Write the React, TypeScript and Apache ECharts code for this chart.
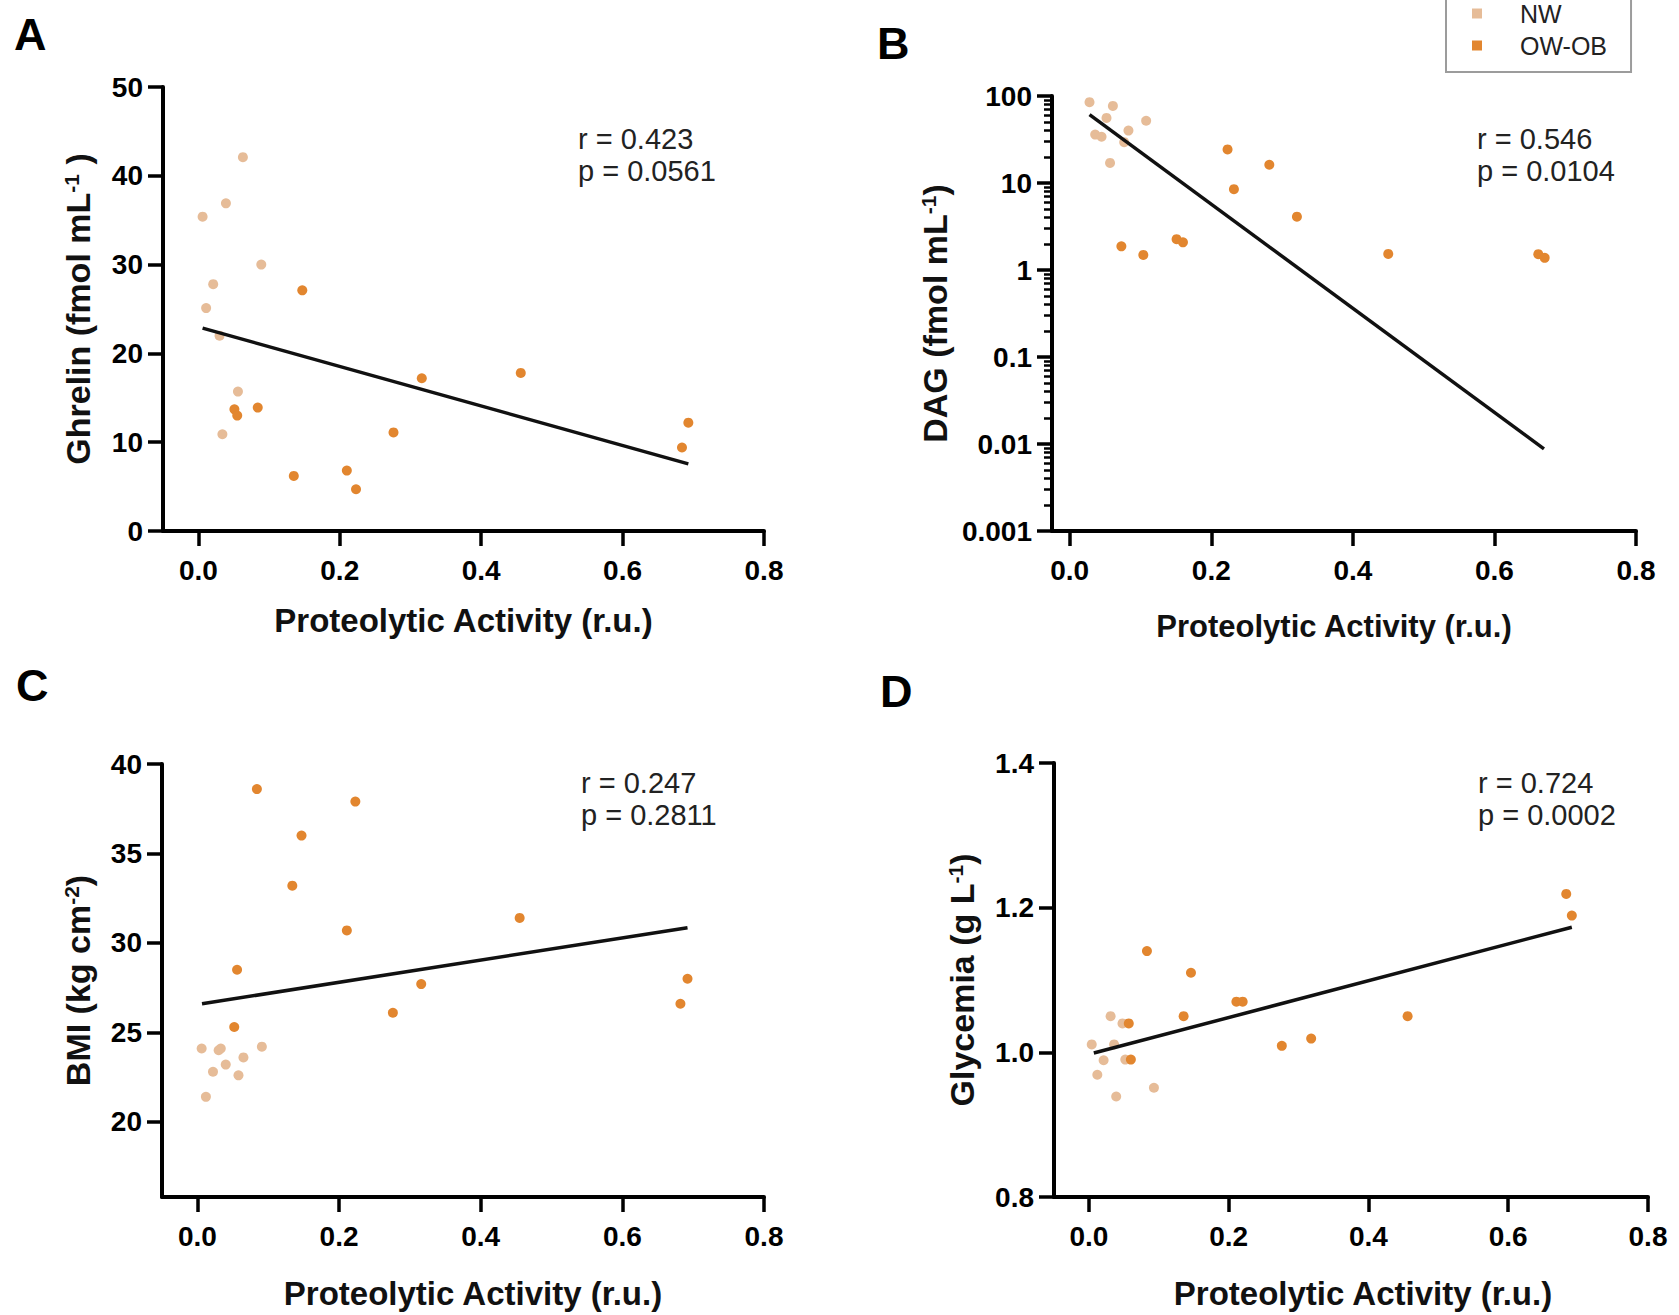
import React, { useEffect, useRef } from "react";
import * as echarts from "echarts";

const FONT = "'Liberation Sans', Arial, Helvetica, sans-serif";
const NW_COLOR = "#E6BC98";
const OB_COLOR = "#E2862F";

// tick values
const xTicks = [0, 0.2, 0.4, 0.6, 0.8];
const yTicksA = [0, 10, 20, 30, 40, 50];
const yTicksC = [20, 25, 30, 35, 40];
const yTicksD = [0.8, 1.0, 1.2, 1.4];

// Panel A: Ghrelin
const nwA_x = [0.006, 0.039, 0.063, 0.089, 0.021, 0.011, 0.030, 0.056, 0.034];
const nwA_y = [35.4, 36.9, 42.1, 30.0, 27.8, 25.1, 22.0, 15.7, 10.9];
const obA_x = [0.147, 0.051, 0.055, 0.084, 0.135, 0.210, 0.223, 0.276, 0.316, 0.456, 0.684, 0.693];
const obA_y = [27.1, 13.7, 13.0, 13.9, 6.2, 6.8, 4.7, 11.1, 17.2, 17.8, 9.4, 12.2];
const fitA_x = [0.006, 0.693];
const fitA_y = [22.85, 7.56];
const statsA = ["r = 0.423", "p = 0.0561"];

// Panel B: DAG (log scale)
const nwB_x = [0.028, 0.061, 0.052, 0.036, 0.045, 0.108, 0.083, 0.077, 0.057];
const nwB_y = [85, 77, 56, 36, 34, 52, 40, 29.5, 17];
const obB_x = [0.223, 0.282, 0.232, 0.321, 0.073, 0.104, 0.151, 0.160, 0.450, 0.662, 0.671];
const obB_y = [24.3, 16.2, 8.5, 4.1, 1.87, 1.49, 2.26, 2.08, 1.53, 1.52, 1.38];
const fitB_x = [0.028, 0.670];
const fitB_y = [61, 0.0088];
const statsB = ["r = 0.546", "p = 0.0104"];

// Panel C: BMI
const nwC_x = [0.006, 0.012, 0.022, 0.030, 0.033, 0.040, 0.058, 0.065, 0.091];
const nwC_y = [24.1, 21.4, 22.8, 24.0, 24.1, 23.2, 22.6, 23.6, 24.2];
const obC_x = [0.084, 0.223, 0.147, 0.134, 0.211, 0.056, 0.052, 0.276, 0.316, 0.455, 0.682, 0.692];
const obC_y = [38.6, 37.9, 36.0, 33.2, 30.7, 28.5, 25.3, 26.1, 27.7, 31.4, 26.6, 28.0];
const fitC_x = [0.0065, 0.692];
const fitC_y = [26.6, 30.85];
const statsC = ["r = 0.247", "p = 0.2811"];

// Panel D: Glycemia
const nwD_x = [0.004, 0.012, 0.021, 0.031, 0.036, 0.039, 0.093, 0.048, 0.052];
const nwD_y = [1.011, 0.969, 0.989, 1.05, 1.011, 0.939, 0.951, 1.04, 0.99];
const obD_x = [0.057, 0.060, 0.083, 0.146, 0.1355, 0.211, 0.220, 0.276, 0.318, 0.456, 0.683, 0.691];
const obD_y = [1.04, 0.99, 1.14, 1.11, 1.05, 1.07, 1.07, 1.009, 1.019, 1.05, 1.219, 1.189];
const fitD_x = [0.007, 0.691];
const fitD_y = [0.999, 1.173];
const statsD = ["r = 0.724", "p = 0.0002"];

const pairs = (xs: number[], ys: number[]) => xs.map((x, i) => [x, ys[i]]);

const AXIS_LINE = { show: true, onZero: false, lineStyle: { color: "#000", width: 4 } };
const TICK_STYLE = { color: "#000", width: 3.5 };
const LABEL_BASE = { fontSize: 28, fontWeight: "bold", fontFamily: FONT, color: "#000" };

function xAxisCfg(gridIndex: number, min: number, nameGap: number, fontSize: number, padding: number[]) {
  return {
    type: "value",
    gridIndex,
    min,
    max: 0.8,
    axisLine: AXIS_LINE,
    axisTick: { show: true, customValues: xTicks, length: 15, lineStyle: TICK_STYLE },
    axisLabel: { ...LABEL_BASE, customValues: xTicks, margin: 25, formatter: (v: number) => v.toFixed(1) },
    splitLine: { show: false },
    name: "Proteolytic Activity (r.u.)",
    nameLocation: "middle",
    nameGap,
    nameTextStyle: { fontSize, fontWeight: "bold", fontFamily: FONT, color: "#111", padding },
  };
}

function yName(main: string, sup: string, tail: string) {
  return `{t|${main}}{s|${sup}}{t|${tail}}`;
}
const Y_NAME_STYLE = {
  rich: {
    t: { fontSize: 34, fontWeight: "bold", fontFamily: FONT, color: "#111" },
    s: { fontSize: 21, fontWeight: "bold", fontFamily: FONT, color: "#111", verticalAlign: "top" },
  },
};

function seriesFor(gi: number, nwx: number[], nwy: number[], obx: number[], oby: number[], fx: number[], fy: number[]) {
  return [
    {
      type: "scatter", name: "NW", xAxisIndex: gi, yAxisIndex: gi,
      data: pairs(nwx, nwy), symbol: "circle", symbolSize: 10,
      itemStyle: { color: NW_COLOR, opacity: 1 },
    },
    {
      type: "scatter", name: "OW-OB", xAxisIndex: gi, yAxisIndex: gi,
      data: pairs(obx, oby), symbol: "circle", symbolSize: 10,
      itemStyle: { color: OB_COLOR, opacity: 1 },
    },
    {
      type: "line", name: "fit", xAxisIndex: gi, yAxisIndex: gi,
      data: pairs(fx, fy), symbol: "none", silent: true,
      lineStyle: { color: "#111", width: 3.5 }, z: 3,
    },
  ];
}

function statText(x: number, y: number, lines: string[]) {
  return {
    type: "text", x, y,
    style: { text: lines.join("\n"), font: `29px ${FONT}`, lineHeight: 32, fill: "#222", verticalAlign: "top", align: "left" },
  };
}
function letter(x: number, y: number, t: string) {
  return {
    type: "text", x, y,
    style: { text: t, font: `bold 45px ${FONT}`, fill: "#000", verticalAlign: "middle", align: "left" },
  };
}

export default function App() {
  const ref = useRef<HTMLDivElement>(null);
  useEffect(() => {
    if (!ref.current) return;
    const chart = echarts.init(ref.current, undefined, { renderer: "svg" });
    const option: any = {
      animation: false,
      backgroundColor: "#fff",
      grid: [
        { left: 163, top: 87, width: 601, height: 444, outerBoundsMode: "none" },
        { left: 1052, top: 96, width: 584, height: 435, outerBoundsMode: "none" },
        { left: 162, top: 764, width: 602, height: 433, outerBoundsMode: "none" },
        { left: 1054, top: 763, width: 594, height: 434, outerBoundsMode: "none" },
      ],
      xAxis: [
        xAxisCfg(0, -0.05, 73, 33, [0, 0, 0, 0]),
        xAxisCfg(1, -0.025, 80, 31, [0, 20, 0, 0]),
        xAxisCfg(2, -0.05, 80, 33, [0, 0, 0, 20]),
        xAxisCfg(3, -0.05, 80, 33, [0, 0, 0, 24]),
      ],
      yAxis: [
        {
          type: "value", gridIndex: 0, min: 0, max: 50,
          axisLine: AXIS_LINE,
          axisTick: { show: true, customValues: yTicksA, length: 15, lineStyle: TICK_STYLE },
          axisLabel: { ...LABEL_BASE, customValues: yTicksA, margin: 20 },
          splitLine: { show: false },
          name: yName("Ghrelin (fmol mL", "-1", " )"), nameLocation: "middle", nameGap: 68,
          nameTextStyle: Y_NAME_STYLE,
        },
        {
          type: "log", logBase: 10, gridIndex: 1, min: 0.001, max: 100,
          axisLine: AXIS_LINE,
          axisTick: { show: true, length: 15, lineStyle: TICK_STYLE },
          minorTick: { show: true, splitNumber: 9, length: 8, lineStyle: { color: "#000", width: 2.5 } },
          axisLabel: { ...LABEL_BASE, margin: 20, formatter: (v: number) => String(Number(v.toPrecision(1))) },
          splitLine: { show: false },
          minorSplitLine: { show: false },
          name: yName("DAG (fmol mL", "-1", ")"), nameLocation: "middle", nameGap: 100,
          nameTextStyle: Y_NAME_STYLE,
        },
        {
          type: "value", gridIndex: 2, min: 15.8, max: 40,
          axisLine: AXIS_LINE,
          axisTick: { show: true, customValues: yTicksC, length: 15, lineStyle: TICK_STYLE },
          axisLabel: { ...LABEL_BASE, customValues: yTicksC, margin: 20 },
          splitLine: { show: false },
          name: yName("BMI (kg cm", "-2", ")"), nameLocation: "middle", nameGap: 67,
          nameTextStyle: Y_NAME_STYLE,
        },
        {
          type: "value", gridIndex: 3, min: 0.8, max: 1.4,
          axisLine: AXIS_LINE,
          axisTick: { show: true, customValues: yTicksD, length: 15, lineStyle: TICK_STYLE },
          axisLabel: { ...LABEL_BASE, customValues: yTicksD, margin: 20, formatter: (v: number) => v.toFixed(1) },
          splitLine: { show: false },
          name: yName("Glycemia (g L", "-1", ")"), nameLocation: "middle", nameGap: 75,
          nameTextStyle: Y_NAME_STYLE,
        },
      ],
      legend: {
        data: [{ name: "NW", icon: "rect" }, { name: "OW-OB", icon: "rect" }],
        orient: "vertical",
        left: 1446,
        top: -11,
        itemWidth: 10,
        itemHeight: 10,
        itemGap: 7,
        padding: [12, 24, 14, 26],
        borderColor: "#9c9c9c",
        borderWidth: 2,
        selectedMode: false,
        textStyle: { fontSize: 25, fontFamily: FONT, color: "#222", padding: [0, 0, 0, 33] },
      },
      graphic: [
        letter(14, 34, "A"),
        letter(877, 43, "B"),
        letter(16, 685, "C"),
        letter(880, 691, "D"),
        statText(578, 123, statsA),
        statText(1477, 123, statsB),
        statText(581, 767, statsC),
        statText(1478, 767, statsD),
      ],
      series: [
        ...seriesFor(0, nwA_x, nwA_y, obA_x, obA_y, fitA_x, fitA_y),
        ...seriesFor(1, nwB_x, nwB_y, obB_x, obB_y, fitB_x, fitB_y),
        ...seriesFor(2, nwC_x, nwC_y, obC_x, obC_y, fitC_x, fitC_y),
        ...seriesFor(3, nwD_x, nwD_y, obD_x, obD_y, fitD_x, fitD_y),
      ],
    };
    chart.setOption(option);
    return () => chart.dispose();
  }, []);
  return (
    <div
      ref={ref}
      style={{ position: "absolute", left: 0, top: 0, width: 1679, height: 1315, background: "#fff" }}
    />
  );
}
